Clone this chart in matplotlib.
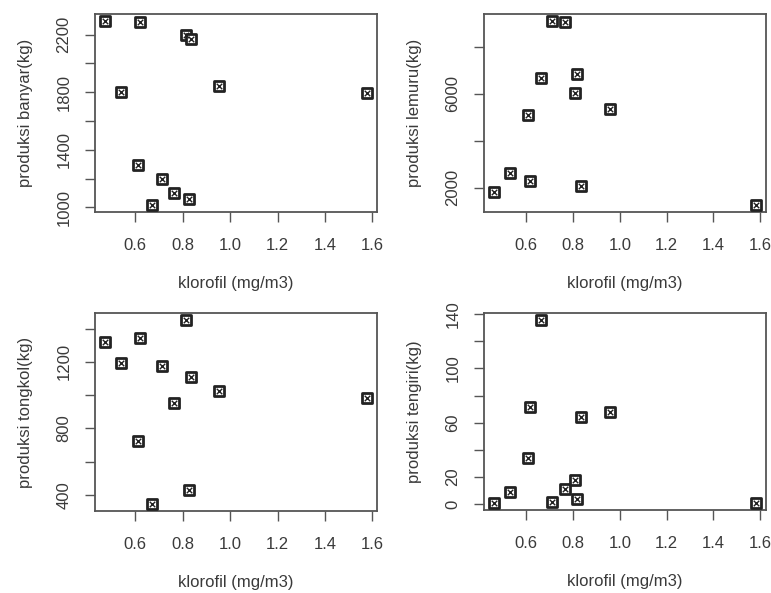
import numpy as np
import matplotlib
matplotlib.use("Agg")
import matplotlib.pyplot as plt

plt.rcParams['font.family'] = ['Liberation Sans', 'DejaVu Sans']

# klorofil (mg/m3) per panel
klorofil_a = [0.474, 0.538, 0.613, 0.620, 0.672, 0.714, 0.765, 0.812, 0.826, 0.833, 0.952, 1.575]
klorofil_b = [0.464, 0.530, 0.606, 0.616, 0.661, 0.710, 0.765, 0.807, 0.817, 0.835, 0.959, 1.580]

banyar = [2293, 1801, 1293, 2288, 1019, 1197, 1097, 2196, 1056, 2172, 1847, 1794]
lemuru = [1801, 2626, 5103, 2299, 6698, 9103, 9060, 6028, 6854, 2085, 5374, 1274]
tongkol = [1320, 1194, 724, 1344, 348, 1176, 954, 1450, 430, 1108, 1026, 986]
tengiri = [1.2, 9.3, 34.1, 71.5, 135.4, 2.0, 11.5, 17.6, 3.7, 64.2, 68.0, 1.2]

x_ticks = [0.6, 0.8, 1.0, 1.2, 1.4, 1.6]

panels = [
    (klorofil_a, banyar, "produksi banyar(kg)", np.arange(1000, 2201, 200), [1000, 1400, 1800, 2200]),
    (klorofil_b, lemuru, "produksi lemuru(kg)", np.arange(2000, 8001, 2000), [2000, 6000]),
    (klorofil_a, tongkol, "produksi tongkol(kg)", np.arange(400, 1401, 200), [400, 800, 1200]),
    (klorofil_b, tengiri, "produksi tengiri(kg)", np.arange(0, 141, 20), [0, 20, 60, 100, 140]),
]

# axes boxes in pixels: left, top, right, bottom
W, H = 771, 593
boxes = [(95, 14, 377, 212), (484, 14, 766, 212),
         (95, 313, 377, 511), (484, 313, 766, 510)]

txt = '#3a3a3a'
fig = plt.figure(figsize=(W / 100, H / 100), dpi=100)

for (x, y, ylab, yt, ylabels_shown), (l, t, r, b) in zip(panels, boxes):
    ax = fig.add_axes([l / W, (H - b) / H, (r - l) / W, (b - t) / H])
    ax.scatter(x, y, marker='s', s=55, facecolors='white', edgecolors='#222222', linewidths=2.0, zorder=3)
    ax.scatter(x, y, marker='x', s=16, color='#222222', linewidths=1.0, zorder=4)
    ax.margins(0.04)
    ax.set_xticks(x_ticks)
    ax.set_xticklabels([f"{v:.1f}" for v in x_ticks])
    ax.set_yticks(yt)
    ax.set_yticklabels([str(v) if v in ylabels_shown else "" for v in yt], rotation=90, va='center')
    ax.tick_params(direction='out', length=7, width=1, colors='#555555', labelcolor=txt, labelsize=12)
    ax.tick_params(axis='x', pad=12)
    ax.tick_params(axis='y', pad=10)
    ax.set_xlabel("klorofil (mg/m3)", color=txt, fontsize=12, labelpad=16)
    ax.set_ylabel(ylab, color=txt, fontsize=12, labelpad=17)
    for s in ax.spines.values():
        s.set_color('#555555')
        s.set_linewidth(1.3)

fig.savefig("out.png", dpi=100)
